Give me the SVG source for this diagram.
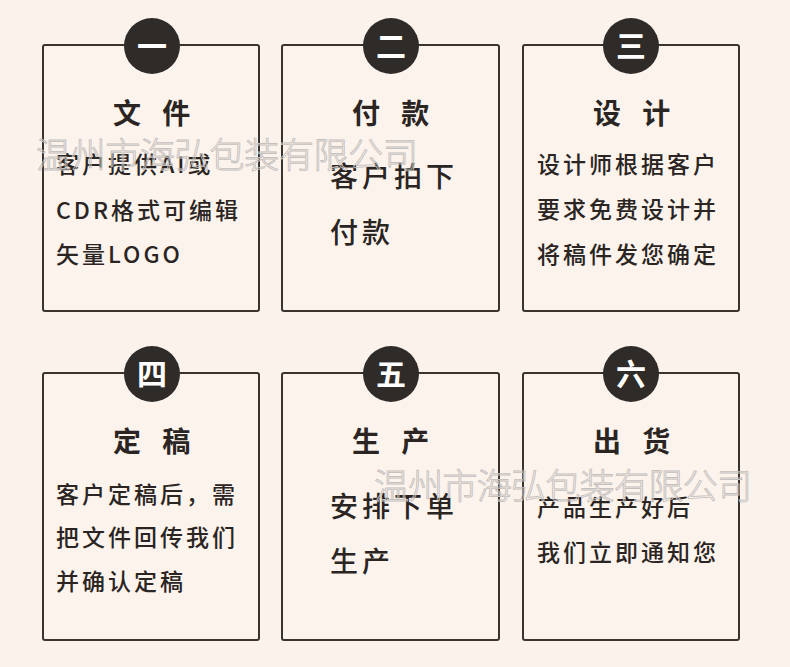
<svg xmlns="http://www.w3.org/2000/svg" width="790" height="667" viewBox="0 0 790 667">
<style>
.box{fill:#fcf3ed;stroke:#3a3431;stroke-width:2}
.dot{fill:#2f2b29}
.num{font-family:"Noto Sans CJK SC","Noto Sans",sans-serif;font-size:30px;font-weight:bold;fill:#ffffff;text-anchor:middle}
.ttl{font-family:"Noto Sans CJK SC","Noto Sans",sans-serif;font-size:28px;font-weight:bold;fill:#2a2522;letter-spacing:7.5px}
.txt{font-family:"Noto Sans CJK SC","Noto Sans",sans-serif;font-size:23px;font-weight:500;fill:#2a2522;letter-spacing:3px}
.big{font-family:"Noto Sans CJK SC","Noto Sans",sans-serif;font-size:28px;font-weight:500;fill:#2a2522;letter-spacing:4px}
.wm{font-family:"Noto Sans CJK SC","Noto Sans",sans-serif;font-size:35px;font-weight:300;fill:none;stroke:#c4c0bd;stroke-width:0.9}
</style>
<rect width="790" height="667" fill="#fbf2eb"/>
<g id="step1">
<rect class="box" x="43" y="45" width="216" height="266" rx="2"/>
<circle class="dot" cx="152" cy="46" r="28"/>
<text class="num" x="152" y="57">一</text>
<text class="ttl" x="113" y="124" xml:space="preserve">文 件</text>
<text class="txt" x="56" y="173">客户提供AI或</text>
<text class="txt" x="56" y="219">CDR格式可编辑</text>
<text class="txt" x="56" y="263">矢量LOGO</text>
</g>
<g id="step2">
<rect class="box" x="282" y="45" width="217" height="266" rx="2"/>
<circle class="dot" cx="391" cy="46" r="28"/>
<text class="num" x="391" y="57">二</text>
<text class="ttl" x="352" y="124" xml:space="preserve">付 款</text>
<text class="big" x="330" y="187">客户拍下</text>
<text class="big" x="330" y="243">付款</text>
</g>
<g id="step3">
<rect class="box" x="523" y="45" width="216" height="266" rx="2"/>
<circle class="dot" cx="631" cy="46" r="28"/>
<text class="num" x="631" y="57">三</text>
<text class="ttl" x="593" y="124" xml:space="preserve">设 计</text>
<text class="txt" x="537" y="173">设计师根据客户</text>
<text class="txt" x="537" y="218">要求免费设计并</text>
<text class="txt" x="537" y="263">将稿件发您确定</text>
</g>
<g id="step4">
<rect class="box" x="43" y="373" width="216" height="267" rx="2"/>
<circle class="dot" cx="152" cy="374" r="28"/>
<text class="num" x="152" y="385">四</text>
<text class="ttl" x="113" y="452" xml:space="preserve">定 稿</text>
<text class="txt" x="56" y="503">客户定稿后，需</text>
<text class="txt" x="56" y="546">把文件回传我们</text>
<text class="txt" x="56" y="590">并确认定稿</text>
</g>
<g id="step5">
<rect class="box" x="282" y="373" width="217" height="267" rx="2"/>
<circle class="dot" cx="391" cy="374" r="28"/>
<text class="num" x="391" y="385">五</text>
<text class="ttl" x="352" y="452" xml:space="preserve">生 产</text>
<text class="big" x="330" y="517">安排下单</text>
<text class="big" x="330" y="572">生产</text>
</g>
<g id="step6">
<rect class="box" x="523" y="373" width="216" height="267" rx="2"/>
<circle class="dot" cx="631" cy="374" r="28"/>
<text class="num" x="631" y="385">六</text>
<text class="ttl" x="593" y="452" xml:space="preserve">出 货</text>
<text class="txt" x="537" y="516">产品生产好后</text>
<text class="txt" x="537" y="561">我们立即通知您</text>
</g>
<g id="connectors"></g>
<g id="watermark">
<text class="wm" x="36" y="168" textLength="382">温州市海弘包装有限公司</text>
<text class="wm" x="374" y="499" textLength="378">温州市海弘包装有限公司</text>
</g>
</svg>
